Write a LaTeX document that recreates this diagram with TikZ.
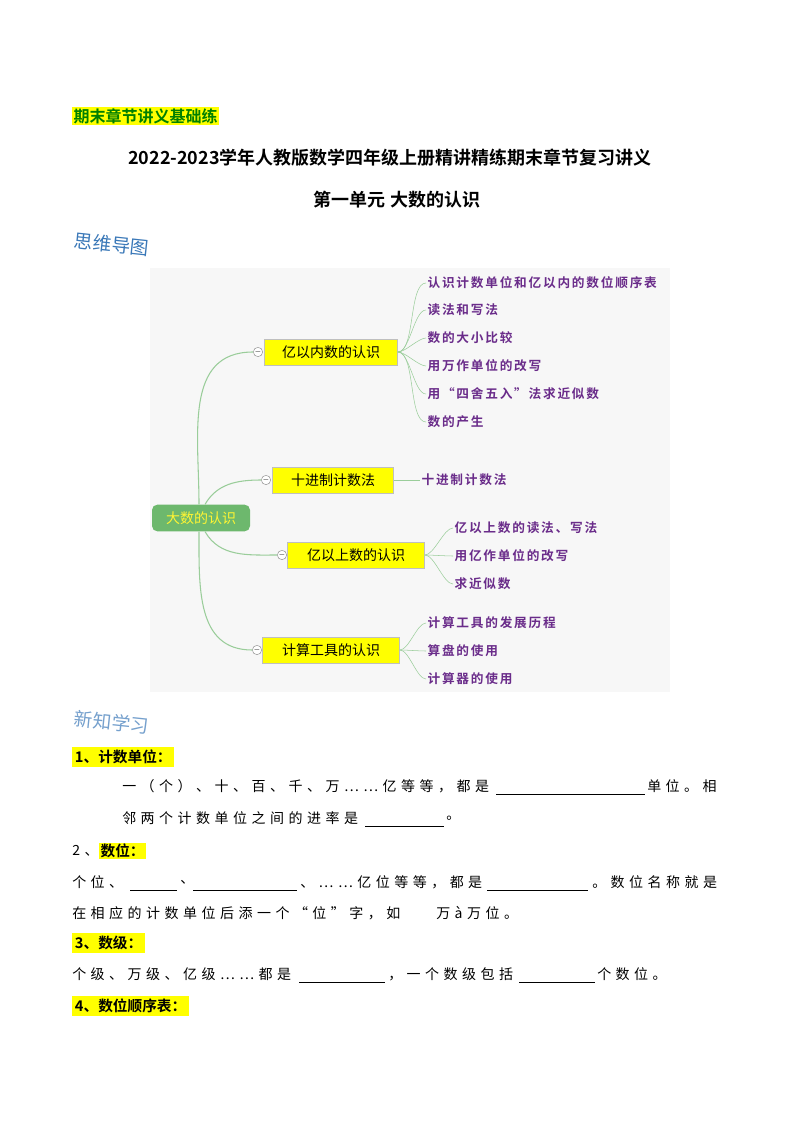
\documentclass[tikz,border=0pt]{standalone}
\usepackage{fontspec}
\setmainfont{Liberation Serif}
\newfontfamily\cjk{Noto Sans CJK SC}
\newfontfamily\cjkb{Noto Sans CJK SC Bold}
\newfontfamily\cjkleaf[LetterSpace=14]{Noto Sans CJK SC Bold}
\newfontfamily\cjkbody[LetterSpace=32]{Noto Sans CJK SC}
\definecolor{mmgreen}{HTML}{6DB86D}
\definecolor{mmline}{HTML}{9ACD9A}
\definecolor{leafpurple}{HTML}{6A2C8A}
\definecolor{hlyellow}{HTML}{FFFF00}
\definecolor{titleblue}{HTML}{3A78B8}
\tikzset{
  branch/.style={draw=black!25,fill=hlyellow,minimum width=100pt,minimum height=19.5pt,
    font=\cjk\fontsize{10.5}{12}\selectfont,inner sep=0pt},
  leaf/.style={anchor=west,inner sep=1pt,text=leafpurple,font=\cjkleaf\fontsize{9.5}{11}\selectfont},
  fold/.style={circle,draw=black!40,fill=white,minimum size=7pt,inner sep=0pt,font=\tiny},
  link/.style={draw=mmline,thick},
  body/.style={anchor=west,inner sep=0pt,font=\cjkbody\fontsize{10.5}{12}\selectfont},
  head/.style={anchor=west,inner sep=2pt,fill=hlyellow,font=\cjkb\fontsize{11}{13}\selectfont},
  blank/.style={draw=black,thin}
}
\begin{document}
\begin{tikzpicture}[x=0.75pt,y=-0.75pt]
  \useasboundingbox[fill=white] (0,0) rectangle (794,1123);

  % Page head
  \node[anchor=west,fill=hlyellow,text=green!50!black,inner sep=1pt,
    font=\cjkb\fontsize{12}{14}\selectfont] (tag) at (72,116) {期末章节讲义基础练};
  \node[font=\cjkb\fontsize{13.5}{15}\selectfont] (title) at (390,158)
    {2022-2023学年人教版数学四年级上册精讲精练期末章节复习讲义};
  \node[font=\cjkb\fontsize{13.5}{15}\selectfont] (unit) at (397,200) {第一单元\ 大数的认识};
  \node[anchor=west,rotate=-6,text=titleblue,font=\cjk\fontsize{14}{16}\selectfont] (mm) at (70,240) {思维导图};

  % Mind map
  \fill[black!3] (150,268) rectangle (670,692);
  \node[fill=mmgreen,rounded corners=4pt,minimum width=73.5pt,minimum height=20pt,inner sep=0pt,
    text=yellow!80!white,font=\cjk\fontsize{10.5}{12}\selectfont] (root) at (201,518) {大数的认识};

  \node[branch] (b1) at (331,352) {亿以内数的认识};
  \node[branch,minimum width=91pt] (b2) at (333,480) {十进制计数法};
  \node[branch,minimum width=103pt] (b3) at (356,555) {亿以上数的认识};
  \node[branch,minimum width=103pt] (b4) at (331,650) {计算工具的认识};

  \node[fold] (c1) at (258,352) {$-$};
  \node[fold] (c2) at (266,480) {$-$};
  \node[fold] (c3) at (282,555) {$-$};
  \node[fold] (c4) at (257,650) {$-$};

  \draw[link] (root.north) ++(-2,0) coordinate (r1) to[out=90,in=180,looseness=1.1] (c1.west);
  \draw[link] (root.north) ++(4,0) coordinate (r2) to[out=60,in=180] (c2.west);
  \draw[link] (root.south) ++(4,0) coordinate (r3) to[out=-60,in=180] (c3.west);
  \draw[link] (root.south) ++(-2,0) coordinate (r4) to[out=-90,in=180,looseness=1.1] (c4.west);

  \node[leaf] (l11) at (426,283) {认识计数单位和亿以内的数位顺序表};
  \node[leaf] (l12) at (426,310) {读法和写法};
  \node[leaf] (l13) at (426,338) {数的大小比较};
  \node[leaf] (l14) at (426,366) {用万作单位的改写};
  \node[leaf] (l15) at (426,394) {用“四舍五入”法求近似数};
  \node[leaf] (l16) at (426,422) {数的产生};
  \node[leaf] (l21) at (420,480) {十进制计数法};
  \node[leaf] (l31) at (453,528) {亿以上数的读法、写法};
  \node[leaf] (l32) at (453,556) {用亿作单位的改写};
  \node[leaf] (l33) at (453,584) {求近似数};
  \node[leaf] (l41) at (426,623) {计算工具的发展历程};
  \node[leaf] (l42) at (426,651) {算盘的使用};
  \node[leaf] (l43) at (426,679) {计算器的使用};

  \foreach \n in {l11,l12,l13,l14,l15,l16}
    \draw[link,thin] (b1.east) to[out=0,in=180,looseness=0.6] (\n.west);
  \draw[link,thin] (b2.east) -- (l21.west);
  \foreach \n in {l31,l32,l33}
    \draw[link,thin] (b3.east) to[out=0,in=180,looseness=0.6] (\n.west);
  \foreach \n in {l41,l42,l43}
    \draw[link,thin] (b4.east) to[out=0,in=180,looseness=0.6] (\n.west);

  % New knowledge
  \node[anchor=west,rotate=-6,text=titleblue!70,font=\cjk\fontsize{14}{16}\selectfont] (nk) at (70,718) {新知学习};

  \node[head] (h1) at (72,757) {1、计数单位：};
  \node[body] (t1a) at (122,786) {一（个）、十、百、千、万……亿等等，都是};
  \draw[blank] (496,794) -- (645,794);
  \node[body] (t1b) at (647,786) {单位。相};
  \node[body] (t2a) at (122,818) {邻两个计数单位之间的进率是};
  \draw[blank] (365,826) -- (444,826);
  \node[body] (t2b) at (446,818) {。};

  \node[body] (h2n) at (72,851) {2、};
  \node[head,inner sep=1pt] (h2) at (99,851) {数位：};
  \node[body] (t3a) at (72,882) {个位、};
  \draw[blank] (130,890) -- (177,890);
  \node[body] (t3b) at (180,882) {、};
  \draw[blank] (193,890) -- (297,890);
  \node[body] (t3c) at (300,882) {、……亿位等等，都是};
  \draw[blank] (487,890) -- (588,890);
  \node[body] (t3d) at (592,882) {。数位名称就是};
  \node[body] (t4a) at (72,913) {在相应的计数单位后添一个“位”字，如};
  \node[body] (t4b) at (436,913) {万à万位。};

  \node[head] (h3) at (72,943) {3、数级：};
  \node[body] (t5a) at (72,974) {个级、万级、亿级……都是};
  \draw[blank] (299,982) -- (385,982);
  \node[body] (t5b) at (388,974) {，一个数级包括};
  \draw[blank] (519,982) -- (595,982);
  \node[body] (t5c) at (597,974) {个数位。};

  \node[head] (h4) at (72,1006) {4、数位顺序表：};
\end{tikzpicture}
\end{document}
